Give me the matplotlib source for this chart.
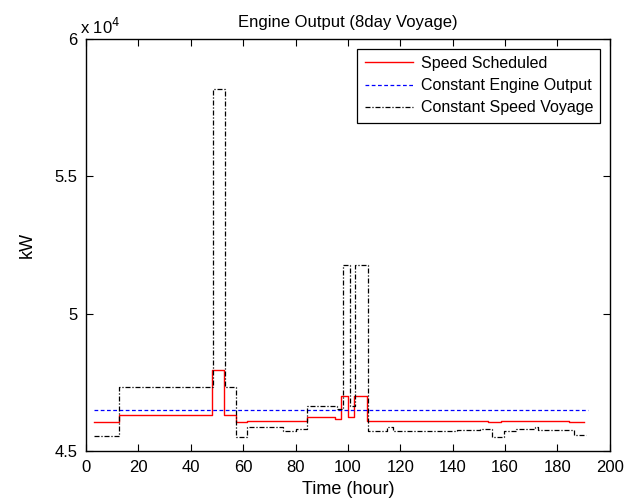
import numpy as np
import matplotlib.pyplot as plt
from matplotlib.ticker import FuncFormatter

plt.rcParams["font.family"] = ["Liberation Sans", "DejaVu Sans"]

# Speed scheduled voyage: step breakpoints [hour] and engine output [kW]
sched_hour = [3, 12.7, 48.2, 52.8, 57.4, 61.3, 84.2, 95.2, 97.5, 99.9, 102.5,
              107.4, 153.5, 158.5, 184.4, 190.2]
sched_kw = [46040, 46310, 47930, 46310, 46040, 46095, 46220, 46160, 47010, 46220,
            47010, 46080, 46030, 46080, 46030, 46030]

# Constant engine output
const_hour = [3, 191.8]
const_kw = [46485, 46485]

# Constant speed voyage
speed_hour = [3, 12.7, 48.6, 53.2, 57.1, 61.6, 75.3, 80, 84.2, 95.7, 98.2, 100.8,
              102.8, 107.8, 115, 117.3, 125, 141.5, 150.6, 155, 159.5, 164.3,
              171.3, 172.6, 186.2, 191]
speed_kw = [45550, 47310, 58190, 47310, 45510, 45880, 45720, 45780, 46630, 46510,
            51770, 46630, 51770, 45730, 45880, 45730, 45700, 45760, 45790, 45510,
            45730, 45790, 45880, 45760, 45570, 45570]

fig = plt.figure(figsize=(6.28, 5.03), dpi=100)
ax = fig.add_axes([0.137, 0.104, 0.834, 0.818])

ax.step(sched_hour, sched_kw, where="post", color="r", lw=1.0, label="Speed Scheduled")
ax.plot(const_hour, const_kw, color="b", ls=(0, (3, 2)), lw=0.9, label="Constant Engine Output")
ax.step(speed_hour, speed_kw, where="post", color="k", ls=(0, (4, 1.5, 1, 1.5)), lw=0.9,
        label="Constant Speed Voyage")

ax.set_xlim(0, 200)
ax.set_ylim(45000, 60000)
ax.set_xticks(np.arange(0, 201, 20))
ax.set_yticks([45000, 50000, 55000, 60000])
ax.yaxis.set_major_formatter(FuncFormatter(lambda v, p: f"{v / 1e4:g}"))
ax.tick_params(direction="in", top=True, right=True, labelsize=12, length=5, width=0.8)
ax.tick_params(axis="x", pad=7)
ax.tick_params(axis="y", pad=6)
for s in ax.spines.values():
    s.set_linewidth(1.0)

ax.text(-0.012, 1.005, r"x 10$^{4}$", transform=ax.transAxes, fontsize=12,
        ha="left", va="bottom")
ax.set_title("Engine Output (8day Voyage)", fontsize=12, pad=9)
ax.set_xlabel("Time (hour)", fontsize=13, labelpad=4)
ax.set_ylabel("kW", fontsize=13, labelpad=14)

leg = ax.legend(loc="upper right", fontsize=11.5, fancybox=False, framealpha=1,
                edgecolor="k", borderaxespad=0.6, handlelength=3.0,
                labelspacing=0.45, borderpad=0.45, handletextpad=0.5)
leg.get_frame().set_linewidth(0.9)

fig.savefig("out.png", dpi=100)
